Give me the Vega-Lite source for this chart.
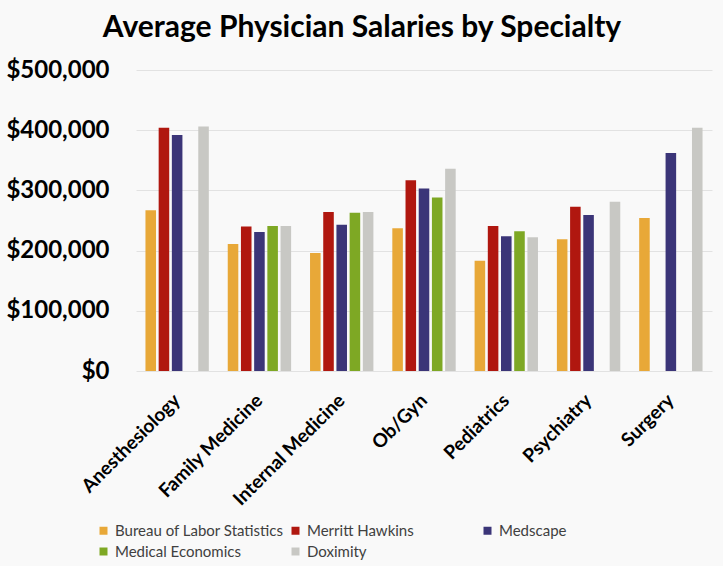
{
  "$schema": "https://vega.github.io/schema/vega-lite/v6.json",
  "description": "Average physician salaries by specialty, grouped by source.",
  "width": 576,
  "height": 301,
  "autosize": {"type": "none"},
  "padding": {"left": 136, "top": 70, "right": 11, "bottom": 195},
  "background": "#f9f9f9",
  "title": {
    "text": "Average Physician Salaries by Specialty",
    "font": "Lato",
    "fontSize": 30,
    "fontWeight": "bold",
    "color": "#000000",
    "anchor": "middle",
    "dx": -62,
    "offset": 15
  },
  "data": {
    "values": [
      {"specialty": "Anesthesiology", "source": "Bureau of Labor Statistics", "salary": 267000},
      {"specialty": "Anesthesiology", "source": "Merritt Hawkins", "salary": 404000},
      {"specialty": "Anesthesiology", "source": "Medscape", "salary": 392000},
      {"specialty": "Anesthesiology", "source": "Doximity", "salary": 406000},
      {"specialty": "Family Medicine", "source": "Bureau of Labor Statistics", "salary": 211000},
      {"specialty": "Family Medicine", "source": "Merritt Hawkins", "salary": 240000},
      {"specialty": "Family Medicine", "source": "Medscape", "salary": 231000},
      {"specialty": "Family Medicine", "source": "Medical Economics", "salary": 241000},
      {"specialty": "Family Medicine", "source": "Doximity", "salary": 241000},
      {"specialty": "Internal Medicine", "source": "Bureau of Labor Statistics", "salary": 196000},
      {"specialty": "Internal Medicine", "source": "Merritt Hawkins", "salary": 264000},
      {"specialty": "Internal Medicine", "source": "Medscape", "salary": 243000},
      {"specialty": "Internal Medicine", "source": "Medical Economics", "salary": 263000},
      {"specialty": "Internal Medicine", "source": "Doximity", "salary": 264000},
      {"specialty": "Ob/Gyn", "source": "Bureau of Labor Statistics", "salary": 237000},
      {"specialty": "Ob/Gyn", "source": "Merritt Hawkins", "salary": 317000},
      {"specialty": "Ob/Gyn", "source": "Medscape", "salary": 303000},
      {"specialty": "Ob/Gyn", "source": "Medical Economics", "salary": 288000},
      {"specialty": "Ob/Gyn", "source": "Doximity", "salary": 336000},
      {"specialty": "Pediatrics", "source": "Bureau of Labor Statistics", "salary": 183000},
      {"specialty": "Pediatrics", "source": "Merritt Hawkins", "salary": 241000},
      {"specialty": "Pediatrics", "source": "Medscape", "salary": 224000},
      {"specialty": "Pediatrics", "source": "Medical Economics", "salary": 232000},
      {"specialty": "Pediatrics", "source": "Doximity", "salary": 222000},
      {"specialty": "Psychiatry", "source": "Bureau of Labor Statistics", "salary": 219000},
      {"specialty": "Psychiatry", "source": "Merritt Hawkins", "salary": 273000},
      {"specialty": "Psychiatry", "source": "Medscape", "salary": 259000},
      {"specialty": "Psychiatry", "source": "Doximity", "salary": 281000},
      {"specialty": "Surgery", "source": "Bureau of Labor Statistics", "salary": 254000},
      {"specialty": "Surgery", "source": "Medscape", "salary": 362000},
      {"specialty": "Surgery", "source": "Doximity", "salary": 404000}
    ]
  },
  "mark": {"type": "bar"},
  "encoding": {
    "x": {
      "field": "specialty",
      "type": "nominal",
      "sort": null,
      "scale": {"paddingInner": 0.23, "paddingOuter": 0.115},
      "axis": {
        "title": null,
        "domain": false,
        "ticks": false,
        "labelAngle": -45,
        "labelAlign": "right",
        "labelBaseline": "middle",
        "labelPadding": 26,
        "labelFont": "Lato",
        "labelFontSize": 19,
        "labelFontWeight": "bold",
        "labelColor": "#000000"
      }
    },
    "xOffset": {
      "field": "source",
      "type": "nominal",
      "scale": {
        "domain": ["Bureau of Labor Statistics", "Merritt Hawkins", "Medscape", "Medical Economics", "Doximity"],
        "paddingInner": 0.2,
        "paddingOuter": 0
      }
    },
    "y": {
      "field": "salary",
      "type": "quantitative",
      "scale": {"domain": [0, 500000]},
      "axis": {
        "title": null,
        "domain": false,
        "ticks": false,
        "values": [0, 100000, 200000, 300000, 400000, 500000],
        "format": "$,.0f",
        "labelPadding": 27,
        "labelFont": "Lato",
        "labelFontSize": 24,
        "labelFontWeight": "bold",
        "labelColor": "#000000",
        "gridColor": "#e2e2e2"
      }
    },
    "color": {
      "field": "source",
      "type": "nominal",
      "scale": {
        "domain": ["Bureau of Labor Statistics", "Merritt Hawkins", "Medscape", "Medical Economics", "Doximity"],
        "range": ["#e8a838", "#b0170f", "#3b3578", "#7ea824", "#c8c8c4"]
      },
      "legend": {
        "title": null,
        "orient": "none",
        "legendX": -40,
        "legendY": 453,
        "direction": "horizontal",
        "columns": 3,
        "gridAlign": "all",
        "columnPadding": 4,
        "rowPadding": 5,
        "symbolType": "square",
        "symbolSize": 64,
        "symbolStrokeWidth": 0,
        "labelFont": "Lato",
        "labelFontSize": 15,
        "labelColor": "#404040",
        "labelLimit": 250
      }
    }
  },
  "config": {
    "view": {"stroke": null}
  }
}
